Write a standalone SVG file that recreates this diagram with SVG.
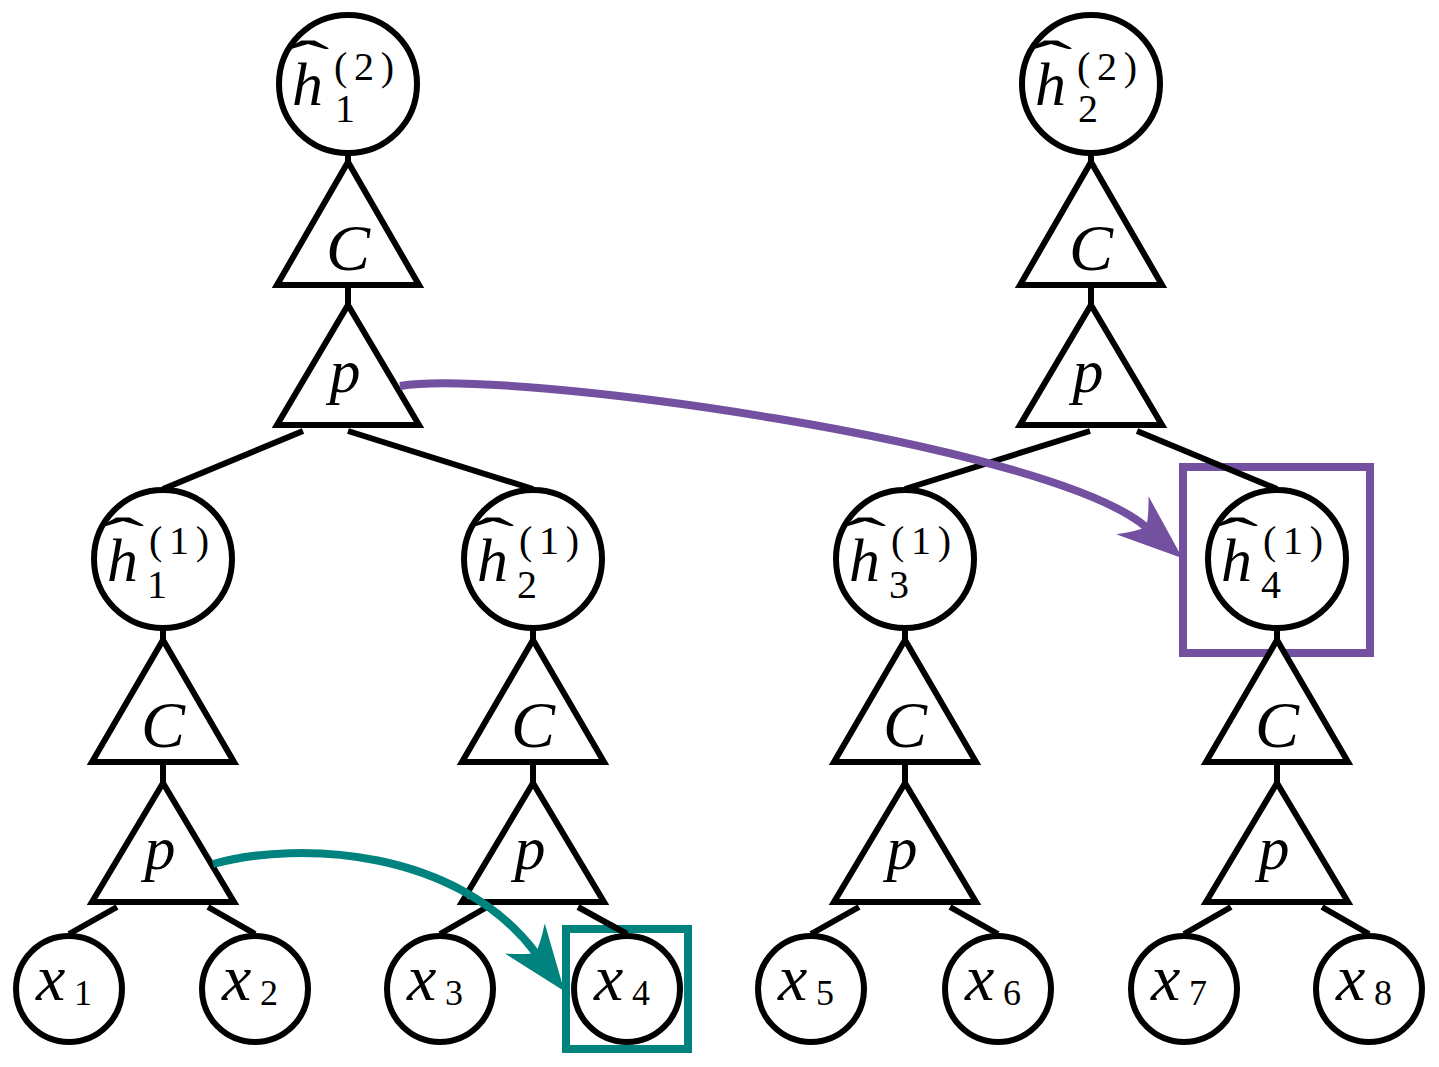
<svg xmlns="http://www.w3.org/2000/svg" width="1439" height="1067" viewBox="0 0 1439 1067">
<defs>
<style>
.n{fill:#fff;stroke:#000;stroke-width:6}
.t{fill:#fff;stroke:#000;stroke-width:6;stroke-linejoin:miter}
.e{stroke:#000;stroke-width:6;fill:none}
.m{font-family:"Liberation Serif",serif;font-style:italic;fill:#000}
.r{font-family:"Liberation Serif",serif;fill:#000}
.big{font-size:62px}
.lx{font-size:66px}
.op{font-size:66px;text-anchor:middle}
.sm{font-size:40px}
.xs{font-size:36px}
.hat{font-family:"Liberation Serif",serif;font-size:56px;text-anchor:middle;fill:#000}
.pb{fill:none;stroke:#7450a0;stroke-width:8}
.tb{fill:none;stroke:#00827f;stroke-width:8}
</style>
<marker id="ap" markerUnits="userSpaceOnUse" viewBox="0 0 66 50" markerWidth="66" markerHeight="50" refX="18" refY="25" orient="auto"><path d="M66,25 L0,0 Q14,16 18,25 Q14,34 0,50 Z" fill="#7450a0"/></marker>
<marker id="at" markerUnits="userSpaceOnUse" viewBox="0 0 66 50" markerWidth="66" markerHeight="50" refX="18" refY="25" orient="auto"><path d="M66,25 L0,0 Q14,16 18,25 Q14,34 0,50 Z" fill="#00827f"/></marker>
</defs>
<rect width="1439" height="1067" fill="#fff"/>

<g id="highlights">
<rect class="pb" x="1183" y="467" width="187" height="186"/>
<rect class="tb" x="566" y="929" width="122" height="120"/>
</g>

<g id="connectors">
<line class="e" x1="348" y1="150" x2="348" y2="165"/>
<line class="e" x1="348" y1="285" x2="348" y2="305"/>
<line class="e" x1="1091" y1="150" x2="1091" y2="165"/>
<line class="e" x1="1091" y1="285" x2="1091" y2="305"/>
<line class="e" x1="303" y1="431" x2="163" y2="489"/>
<line class="e" x1="348" y1="431" x2="533" y2="489"/>
<line class="e" x1="1090" y1="431" x2="905" y2="489"/>
<line class="e" x1="1137" y1="431" x2="1277" y2="489"/>
<line class="e" x1="163" y1="626" x2="163" y2="642"/>
<line class="e" x1="533" y1="626" x2="533" y2="642"/>
<line class="e" x1="905" y1="626" x2="905" y2="642"/>
<line class="e" x1="1277" y1="626" x2="1277" y2="642"/>
<line class="e" x1="163" y1="762" x2="163" y2="783"/>
<line class="e" x1="533" y1="762" x2="533" y2="783"/>
<line class="e" x1="905" y1="762" x2="905" y2="783"/>
<line class="e" x1="1277" y1="762" x2="1277" y2="783"/>
<line class="e" x1="117" y1="907" x2="69" y2="934"/>
<line class="e" x1="208" y1="907" x2="255" y2="934"/>
<line class="e" x1="487" y1="907" x2="440" y2="934"/>
<line class="e" x1="578" y1="907" x2="627" y2="934"/>
<line class="e" x1="859" y1="907" x2="811" y2="934"/>
<line class="e" x1="950" y1="907" x2="998" y2="934"/>
<line class="e" x1="1231" y1="907" x2="1184" y2="934"/>
<line class="e" x1="1322" y1="907" x2="1369" y2="934"/>
</g>

<g id="h2_1">
<circle class="n" cx="348" cy="84" r="69"/>
<text class="hat" transform="translate(308,79) scale(2.3,1)">ˆ</text>
<text class="m big" x="292" y="105">h</text>
<text class="r sm" x="334" y="80" textLength="60" lengthAdjust="spacing">(2)</text>
<text class="r sm" x="335" y="122">1</text>
</g>
<g id="h2_2">
<circle class="n" cx="1091" cy="84" r="69"/>
<text class="hat" transform="translate(1051,79) scale(2.3,1)">ˆ</text>
<text class="m big" x="1035" y="105">h</text>
<text class="r sm" x="1077" y="80" textLength="60" lengthAdjust="spacing">(2)</text>
<text class="r sm" x="1078" y="122">2</text>
</g>
<g id="C_top1"><polygon class="t" points="348,162 419,285 277,285"/><text class="m op" x="348" y="270">C</text></g>
<g id="p_top1"><polygon class="t" points="348,305 419,425 277,425"/><text class="m big" x="345" y="392" text-anchor="middle">p</text></g>
<g id="C_top2"><polygon class="t" points="1091,162 1162,285 1020,285"/><text class="m op" x="1091" y="270">C</text></g>
<g id="p_top2"><polygon class="t" points="1091,305 1162,425 1020,425"/><text class="m big" x="1088" y="392" text-anchor="middle">p</text></g>

<g id="h1_1">
<circle class="n" cx="163" cy="559" r="69"/>
<text class="hat" transform="translate(123,556) scale(2.3,1)">ˆ</text>
<text class="m big" x="107" y="581">h</text>
<text class="r sm" x="149" y="554" textLength="60" lengthAdjust="spacing">(1)</text>
<text class="r sm" x="147" y="598">1</text>
</g>
<g id="h1_2">
<circle class="n" cx="533" cy="559" r="69"/>
<text class="hat" transform="translate(493,556) scale(2.3,1)">ˆ</text>
<text class="m big" x="477" y="581">h</text>
<text class="r sm" x="519" y="554" textLength="60" lengthAdjust="spacing">(1)</text>
<text class="r sm" x="517" y="598">2</text>
</g>
<g id="h1_3">
<circle class="n" cx="905" cy="559" r="69"/>
<text class="hat" transform="translate(865,556) scale(2.3,1)">ˆ</text>
<text class="m big" x="849" y="581">h</text>
<text class="r sm" x="891" y="554" textLength="60" lengthAdjust="spacing">(1)</text>
<text class="r sm" x="889" y="598">3</text>
</g>
<g id="h1_4">
<circle class="n" cx="1277" cy="559" r="69"/>
<text class="hat" transform="translate(1237,556) scale(2.3,1)">ˆ</text>
<text class="m big" x="1221" y="581">h</text>
<text class="r sm" x="1263" y="554" textLength="60" lengthAdjust="spacing">(1)</text>
<text class="r sm" x="1261" y="598">4</text>
</g>

<g id="C_1"><polygon class="t" points="163,640 234,762 92,762"/><text class="m op" x="163" y="747">C</text></g>
<g id="p_1"><polygon class="t" points="163,783 234,902 92,902"/><text class="m big" x="160" y="869" text-anchor="middle">p</text></g>
<g id="C_2"><polygon class="t" points="533,640 604,762 462,762"/><text class="m op" x="533" y="747">C</text></g>
<g id="p_2"><polygon class="t" points="533,783 604,902 462,902"/><text class="m big" x="530" y="869" text-anchor="middle">p</text></g>
<g id="C_3"><polygon class="t" points="905,640 976,762 834,762"/><text class="m op" x="905" y="747">C</text></g>
<g id="p_3"><polygon class="t" points="905,783 976,902 834,902"/><text class="m big" x="902" y="869" text-anchor="middle">p</text></g>
<g id="C_4"><polygon class="t" points="1277,640 1348,762 1206,762"/><text class="m op" x="1277" y="747">C</text></g>
<g id="p_4"><polygon class="t" points="1277,783 1348,902 1206,902"/><text class="m big" x="1274" y="869" text-anchor="middle">p</text></g>

<g id="x1"><circle class="n" cx="69" cy="989" r="53"/><text class="m lx" x="36" y="1000">x</text><text class="r xs" x="74" y="1005">1</text></g>
<g id="x2"><circle class="n" cx="255" cy="989" r="53"/><text class="m lx" x="222" y="1000">x</text><text class="r xs" x="260" y="1005">2</text></g>
<g id="x3"><circle class="n" cx="440" cy="989" r="53"/><text class="m lx" x="407" y="1000">x</text><text class="r xs" x="445" y="1005">3</text></g>
<g id="x4"><circle class="n" cx="627" cy="989" r="53"/><text class="m lx" x="594" y="1000">x</text><text class="r xs" x="632" y="1005">4</text></g>
<g id="x5"><circle class="n" cx="811" cy="989" r="53"/><text class="m lx" x="778" y="1000">x</text><text class="r xs" x="816" y="1005">5</text></g>
<g id="x6"><circle class="n" cx="998" cy="989" r="53"/><text class="m lx" x="965" y="1000">x</text><text class="r xs" x="1003" y="1005">6</text></g>
<g id="x7"><circle class="n" cx="1184" cy="989" r="53"/><text class="m lx" x="1151" y="1000">x</text><text class="r xs" x="1189" y="1005">7</text></g>
<g id="x8"><circle class="n" cx="1369" cy="989" r="53"/><text class="m lx" x="1336" y="1000">x</text><text class="r xs" x="1374" y="1005">8</text></g>

<g id="arrows">
<path d="M400,386 C500,368 1047,442.5 1146,527" fill="none" stroke="#7450a0" stroke-width="8" marker-end="url(#ap)"/>
<path d="M213,864 C300,840 457.5,849 535.6,952.8" fill="none" stroke="#00827f" stroke-width="8" marker-end="url(#at)"/>
</g>
</svg>
